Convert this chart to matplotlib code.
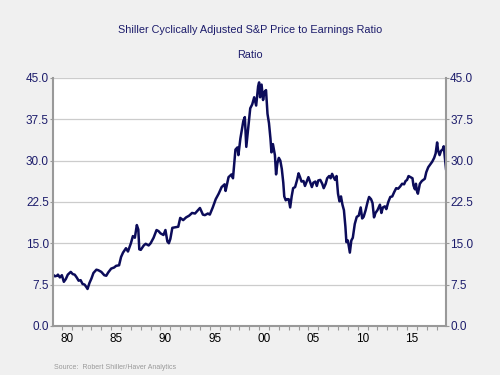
import matplotlib
matplotlib.use("Agg")
import matplotlib.pyplot as plt
import numpy as np

plt.rcParams['font.family'] = ['Liberation Sans', 'DejaVu Sans']

# Shiller CAPE (decimal year, ratio)
years = [
    1979.1, 1979.3, 1979.5, 1979.6, 1979.8, 1980.0, 1980.2, 1980.4, 1980.6, 1980.9,
    1981.1, 1981.3, 1981.5, 1981.7, 1981.9, 1982.1, 1982.3, 1982.5, 1982.6, 1982.8,
    1983.0, 1983.2, 1983.5, 1983.7, 1984.0, 1984.3, 1984.5, 1984.7, 1985.0, 1985.3,
    1985.5, 1985.8, 1986.0, 1986.2, 1986.5, 1986.7, 1987.0, 1987.2, 1987.4, 1987.6,
    1987.75, 1987.85, 1988.0, 1988.3, 1988.5, 1988.8, 1989.0, 1989.3, 1989.6, 1989.8,
    1990.0, 1990.3, 1990.5, 1990.7, 1990.85, 1991.0, 1991.2, 1991.5, 1991.8, 1992.0,
    1992.3, 1992.6, 1992.9, 1993.2, 1993.5, 1993.8, 1994.0, 1994.3, 1994.5, 1994.8,
    1995.0, 1995.3, 1995.6, 1995.9, 1996.2, 1996.5, 1996.6, 1996.9, 1997.2, 1997.35,
    1997.6, 1997.8, 1997.9, 1998.1, 1998.4, 1998.55, 1998.7, 1998.9, 1999.1, 1999.3,
    1999.5, 1999.7, 1999.9, 2000.0, 2000.1, 2000.25, 2000.4, 2000.55, 2000.7, 2000.85,
    2001.0, 2001.15, 2001.25, 2001.4, 2001.6, 2001.72, 2001.85, 2002.0, 2002.15, 2002.3,
    2002.45, 2002.55, 2002.7, 2002.85, 2003.0, 2003.15, 2003.3, 2003.45, 2003.65, 2003.85,
    2004.0, 2004.15, 2004.3, 2004.5, 2004.65, 2004.85, 2005.0, 2005.2, 2005.35, 2005.5,
    2005.7, 2005.85, 2006.0, 2006.2, 2006.4, 2006.55, 2006.75, 2006.9, 2007.1, 2007.25,
    2007.4, 2007.55, 2007.7, 2007.85, 2008.0, 2008.15, 2008.3, 2008.45, 2008.6, 2008.75,
    2008.85, 2009.0, 2009.2, 2009.35, 2009.5, 2009.7, 2009.9, 2010.1, 2010.3, 2010.45,
    2010.6, 2010.8, 2011.0, 2011.15, 2011.35, 2011.5, 2011.65, 2011.8, 2012.0, 2012.25,
    2012.4, 2012.55, 2012.75, 2012.9, 2013.1, 2013.3, 2013.5, 2013.7, 2013.9, 2014.1,
    2014.3, 2014.5, 2014.7, 2014.85, 2015.0, 2015.15, 2015.35, 2015.55, 2015.65, 2015.8,
    2015.9, 2016.0, 2016.1, 2016.3, 2016.5, 2016.65, 2016.8, 2016.95, 2017.15, 2017.35,
    2017.55, 2017.75, 2017.9, 2018.05, 2018.15, 2018.3, 2018.45, 2018.6, 2018.72, 2018.82,
    2018.95,
]
cape = [
    9.3, 9.0, 9.1, 9.3, 8.8, 9.2, 8.0, 8.5, 9.3, 9.8,
    9.4, 9.3, 8.8, 8.2, 8.3, 7.6, 7.5, 7.0, 6.7, 7.8,
    8.6, 9.6, 10.2, 10.1, 9.8, 9.2, 9.1, 9.7, 10.4, 10.6,
    10.9, 11.0, 12.5, 13.3, 14.1, 13.5, 15.0, 16.3, 16.0, 18.3,
    17.5, 13.9, 13.8, 14.6, 14.9, 14.6, 15.0, 16.0, 17.4, 17.2,
    16.8, 16.5, 17.4, 15.3, 15.0, 15.8, 17.8, 17.9, 18.0, 19.6,
    19.2, 19.7, 20.0, 20.5, 20.4, 21.0, 21.4, 20.2, 20.1, 20.4,
    20.2, 21.5, 23.0, 24.0, 25.2, 25.7, 24.5, 27.0, 27.5, 26.8,
    32.0, 32.4, 31.0, 34.0, 37.2, 37.9, 32.5, 36.0, 39.5, 40.2,
    41.5, 40.0, 43.5, 44.2, 41.5, 43.8, 41.0, 42.5, 42.8, 38.5,
    36.8, 34.0, 31.5, 33.0, 31.0, 27.5, 29.5, 30.5, 30.0, 28.5,
    26.0, 23.5, 22.8, 23.0, 23.0, 21.5, 23.5, 25.0, 25.2, 26.5,
    27.7, 27.0, 26.2, 26.3, 25.4, 26.3, 27.0, 26.0, 25.2, 26.0,
    26.2, 25.4, 26.4, 26.5, 25.8, 25.0, 25.8, 26.8, 27.2, 26.8,
    27.6, 27.0, 26.5, 27.2, 24.0, 22.6, 23.5, 22.0, 21.0, 18.0,
    15.2, 15.5, 13.3, 15.5, 16.0, 18.5, 19.8, 20.0, 21.5, 19.5,
    19.8, 21.0, 22.5, 23.4, 23.0, 22.3, 19.7, 20.5, 21.0, 22.0,
    20.5, 21.5, 21.7, 21.2, 22.5, 23.4, 23.5, 24.3, 25.0, 24.9,
    25.3, 25.8, 25.7, 26.3, 26.5, 27.2, 27.0, 26.8, 25.5, 24.8,
    25.8, 24.5, 24.0, 25.8, 26.3, 26.5, 26.7, 27.9, 28.8, 29.3,
    29.8, 30.5, 31.3, 33.3, 31.8, 31.0, 31.8, 32.0, 32.6, 30.8,
    28.5,
]

yticks = [0.0, 7.5, 15.0, 22.5, 30.0, 37.5, 45.0]
xlabels = ["80", "85", "90", "95", "00", "05", "10", "15"]

navy = "#1c1c6b"
bg = "#f0f0f0"

fig = plt.figure(figsize=(5, 3.75), dpi=100, facecolor=bg)
ax = fig.add_axes([0.106, 0.131, 0.786, 0.661])
ax.set_facecolor("white")

ax.plot(years, cape, color="#0c0c5a", lw=1.8, solid_joinstyle="round")

ax.set_xlim(1979.1, 2018.95)
ax.set_ylim(0, 45)
ax.set_yticks(yticks)
ax.set_yticklabels(["%.1f" % v for v in yticks])
ax.yaxis.grid(True, color="#cccccc", lw=0.9)
ax.set_axisbelow(True)

# year ticks on boundaries, labels centred in the year
ax.set_xticks(np.arange(1980, 2019, 1))
ax.set_xticklabels([])
ax.set_xticks([1980.5 + 5 * i for i in range(len(xlabels))], minor=True)
ax.set_xticklabels(xlabels, minor=True)
ax.tick_params(axis="x", which="major", length=3, color="#999999", direction="out")
ax.tick_params(axis="x", which="minor", length=0, labelsize=8.5, colors="black", pad=5)

ax.tick_params(axis="y", which="both", length=2, color="#999999",
               labelsize=8.5, labelcolor=navy, left=True, right=True,
               labelleft=True, labelright=True, pad=1)

for s in ["left", "right", "bottom"]:
    ax.spines[s].set_color("#999999")
    ax.spines[s].set_linewidth(1.5)
ax.spines["top"].set_visible(False)

fig.text(0.5, 0.92, "Shiller Cyclically Adjusted S&P Price to Earnings Ratio",
         ha="center", va="center", color=navy, fontsize=7.8)
fig.text(0.5, 0.853, "Ratio", ha="center", va="center", color=navy, fontsize=7.8)
fig.text(0.108, 0.01, "Source:  Robert Shiller/Haver Analytics", ha="left",
         va="bottom", color="#999999", fontsize=5)

plt.savefig("out.png", dpi=100, facecolor=bg)
